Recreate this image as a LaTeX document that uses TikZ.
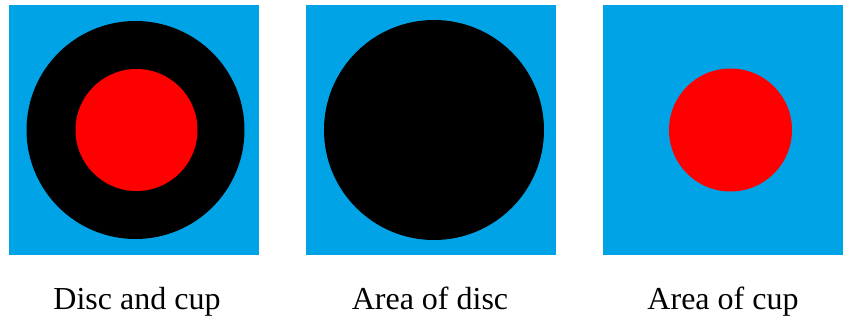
\documentclass[tikz,border=0pt]{standalone}
\usepackage{fontspec}
\setmainfont{Liberation Serif}
\definecolor{skyb}{RGB}{0,164,230}
\begin{document}
\begin{tikzpicture}[x=1pt,y=-1pt,
  panel/.style={fill=skyb,draw=none},
  disc/.style={fill=black,draw=none},
  cup/.style={fill=red,draw=none},
  lab/.style={font=\fontsize{32}{36}\selectfont,anchor=base,inner sep=0pt}]
\useasboundingbox[fill=white] (0,0) rectangle (843,321);
\fill[panel] (9,5) rectangle (259,255);
\fill[panel] (306,5) rectangle (556,255);
\fill[panel] (603,5) rectangle (843,255);
\fill[disc] (135.5,130) circle (109);
\fill[cup] (136.5,130) circle (61);
\fill[disc] (434,130) circle (110);
\fill[cup] (730.5,130) circle (61.5);
\node[lab] (l1) at (137,309) {Disc and cup};
\node[lab] (l2) at (430,309) {Area of disc};
\node[lab] (l3) at (723,309) {Area of cup};
\end{tikzpicture}
\end{document}
